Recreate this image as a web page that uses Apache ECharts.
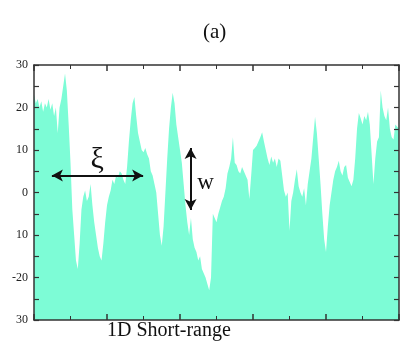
<!DOCTYPE html>
<html>
<head>
<meta charset="utf-8">
<script src="https://cdn.jsdelivr.net/npm/echarts@6/dist/echarts.min.js"></script>
<style>
  html, body { margin: 0; padding: 0; background: #fff; }
  #chart { width: 415px; height: 357px; }
</style>
</head>
<body>
<div id="chart"></div>
<script>
// surface height h(x), one value every 5 units of x (0..1000)
var step = 5
var heights = [
  23, 21, 22, 20, 21.5, 19, 21, 20, 22, 19.5,
  21, 18, 20, 14, 20, 22, 25, 28, 24, 16,
  7, -4, -10, -16, -18, -12, -4, -1, 0.5, -2,
  -1, 2, -3, -7, -10, -13, -15, -16, -12, -7,
  -3, -1, 0.5, 3, 2, 4, 3.5, 5, 4.5, 3,
  2, 6, 12, 17, 21, 22.5, 18, 14, 12, 10,
  9.5, 10.5, 9, 8, 5, 4, 2, 0, -5, -10,
  -12.5, -8, 0, 8, 15, 20, 23.5, 21, 16, 13,
  10, 7, 2, -3, -7, -10, -6, -11, -13, -14,
  -16, -15, -18, -19, -20, -21.5, -23, -20, -5, -6,
  -7, -5, -3.5, -2, -1, 1, 4.5, 6, 8, 13,
  7, 6.5, 5, 4.5, 6, 5, 4, 3, -1.5, 4,
  10, 10.5, 11, 12, 13, 14.2, 12, 10, 8, 6.5,
  8.5, 7, 8, 6, 8, 7.5, 4, 0.5, -1, 0,
  -9, -2, 0, 3, 5.5, 1.5, 0, -1, 1, -3,
  2, 5, 8, 13, 17.8, 14, 8, 2, -5, -11,
  -14, -8, -3, 0, 3, 5, 6, 7.5, 5, 4,
  6, 6.5, 3.5, 2.5, 1.5, 3, 8, 15, 18.7, 17.5,
  16, 18, 17, 19, 16, 9, 2, 8, 12, 13,
  24, 20, 18, 17, 20, 15, 13, 12.5, 16, 15.5,
  15
]

var yTicks = [30, 20, 10, 0, -10, -20, -30]
var yTickLabels = ['30', '20', '10', '0', '10', '-20', '30']

// annotations (data coordinates)
var xiArrow = [[49, 4], [299, 4]]
var wArrow = [[429, 10.5], [429, -4.1]]
var xiLabel = [173, 7.6]
var wLabel = [470, 2.3]

var myChart = echarts.init(document.getElementById('chart'))

var axisColor = '#333'
var serif = '"Liberation Serif", "DejaVu Serif", serif'

function xAxisCfg(pos) {
  return {
    type: 'value',
    position: pos,
    min: 0,
    max: 1000,
    interval: 200,
    z: 10,
    axisLine: { show: true, onZero: false, lineStyle: { color: axisColor, width: 1.5 } },
    axisTick: { show: true, inside: true, length: 6, lineStyle: { color: axisColor, width: 1.5 } },
    minorTick: { show: true, splitNumber: 2, length: 4, lineStyle: { color: axisColor } },
    axisLabel: { show: false },
    splitLine: { show: false }
  }
}

function yAxisCfg(pos, labels) {
  return {
    type: 'value',
    position: pos,
    min: -30,
    max: 30,
    interval: 10,
    z: 10,
    axisLine: { show: true, onZero: false, lineStyle: { color: axisColor, width: 1.5 } },
    axisTick: { show: true, inside: true, length: 5, lineStyle: { color: axisColor, width: 1.2 } },
    minorTick: { show: true, splitNumber: 2, length: 5, lineStyle: { color: axisColor, width: 1.2 } },
    axisLabel: {
      show: labels,
      margin: 6,
      color: '#222',
      fontFamily: serif,
      fontSize: 12,
      formatter: function (v) {
        var k = yTicks.indexOf(v)
        return k >= 0 ? yTickLabels[k] : ''
      }
    },
    splitLine: { show: false }
  }
}

var option = {
  animation: false,
  grid: { left: 34, right: 16, top: 65, bottom: 37 },
  xAxis: [xAxisCfg('bottom'), xAxisCfg('top')],
  yAxis: [yAxisCfg('left', true), yAxisCfg('right', false)],
  graphic: [
    {
      type: 'text', left: 203, top: 22,
      style: { text: '(a)', font: '21px ' + serif, fill: '#111' }
    },
    {
      type: 'text', left: 107, top: 321,
      style: { text: '1D Short-range', font: '20px ' + serif, fill: '#111' }
    }
  ],
  series: [
    {
      type: 'line',
      data: heights.map(function (v, i) { return [i * step, v] }),
      showSymbol: false,
      lineStyle: { width: 0 },
      itemStyle: { color: '#7dfcd6' },
      areaStyle: { color: '#7dfcd6', opacity: 1, origin: 'start' },
      markLine: {
        silent: true,
        symbol: ['arrow', 'arrow'],
        symbolSize: [9, 11],
        label: { show: false },
        lineStyle: { color: '#111', width: 2, type: 'solid' },
        data: [
          [{ coord: xiArrow[0] }, { coord: xiArrow[1] }],
          [{ coord: wArrow[0] }, { coord: wArrow[1] }]
        ]
      },
      markPoint: {
        silent: true,
        symbol: 'circle',
        symbolSize: 1,
        itemStyle: { color: 'rgba(0,0,0,0)' },
        label: { show: true, position: 'inside', color: '#111', fontFamily: serif, formatter: '{b}' },
        data: [
          { name: 'ξ', coord: xiLabel, label: { fontSize: 30 } },
          { name: 'w', coord: wLabel, label: { fontSize: 23 } }
        ]
      }
    }
  ]
}

option && myChart.setOption(option)
</script>
</body>
</html>
